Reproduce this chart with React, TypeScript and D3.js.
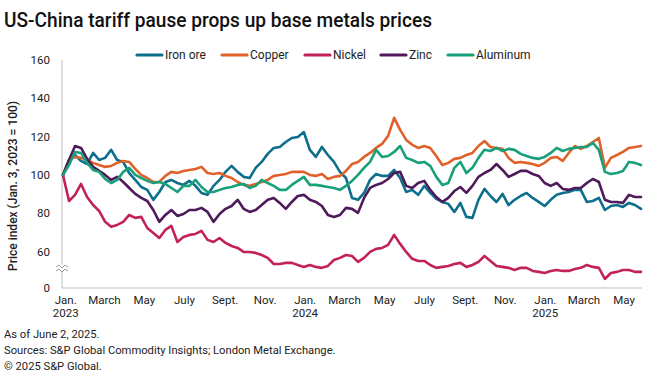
import React from "react";
import * as d3 from "d3";

// ---- Data (price index, Jan. 3, 2023 = 100), evenly spaced samples Jan 3 2023 -> Jun 2 2025 ----
const ironOre = [
  100.0,107.8,110.4,107.3,105.7,111.5,107.8,108.9,113.1,107.8,
  106.8,101.0,97.4,93.7,92.2,87.0,91.1,96.3,97.4,95.8,
  94.8,96.9,94.3,90.6,89.6,94.3,97.4,101.6,104.7,101.6,
  99.0,98.4,103.7,106.8,111.0,114.1,114.6,117.2,119.3,119.8,
  122.4,113.1,109.4,114.6,110.4,106.8,101.6,98.4,88.0,87.0,
  90.6,97.4,100.5,99.5,99.5,102.6,98.4,91.1,92.2,89.6,
  94.3,90.6,87.5,85.9,84.9,80.7,85.4,78.1,77.6,87.0,
  92.7,89.0,85.9,90.1,84.3,87.0,89.0,90.6,88.0,85.9,
  83.8,87.0,89.6,90.6,91.1,92.2,92.2,85.9,86.4,88.0,
  81.7,83.8,84.3,83.3,85.4,84.3,82.3,
];
const copper = [
  100.0,107.8,109.4,108.9,107.8,106.3,105.2,104.2,104.7,106.3,
  107.3,106.8,103.1,100.0,98.4,96.3,96.3,99.5,101.6,101.0,
  102.1,102.6,103.1,104.2,101.0,100.5,101.0,99.5,98.4,96.3,
  94.8,94.3,95.3,96.3,97.4,99.5,100.0,100.5,101.6,101.6,
  101.6,100.0,99.5,100.5,97.9,99.0,99.5,102.1,105.7,106.8,
  109.4,111.5,114.1,116.2,120.4,129.8,123.5,118.3,115.7,114.1,
  115.1,114.1,109.9,105.2,106.3,108.4,108.9,110.4,111.5,115.1,
  117.7,114.6,114.1,113.6,108.9,106.3,106.8,106.3,105.7,104.7,
  106.3,108.9,109.4,107.3,111.5,115.1,113.6,115.1,117.2,119.3,
  103.7,108.9,110.4,112.0,114.1,114.6,115.1,
];
const nickel = [
  100.0,86.4,89.6,95.3,88.5,84.3,81.2,75.5,72.9,73.9,
  75.5,79.1,77.6,78.1,72.3,69.7,67.1,71.3,73.4,65.0,
  67.6,68.7,69.2,70.8,66.1,65.0,67.1,64.5,62.9,61.9,
  59.8,59.8,59.3,58.2,56.7,53.5,53.5,54.1,54.1,53.0,
  52.0,53.0,52.0,51.5,52.5,55.6,56.7,58.2,57.7,54.6,
  56.7,59.8,61.4,61.9,63.5,68.7,64.0,59.8,56.2,55.1,
  55.1,53.0,51.5,52.0,52.5,53.5,54.1,52.0,53.0,54.6,
  57.7,55.1,52.5,52.0,51.5,50.4,51.5,51.5,49.9,49.4,
  48.8,49.9,50.4,49.9,49.9,50.9,51.5,53.0,52.0,51.5,
  45.7,48.8,49.4,50.4,50.4,49.4,49.4,
];
const zinc = [
  100.0,107.8,115.1,114.1,108.4,104.2,102.1,100.0,97.4,99.0,
  96.3,93.2,90.1,88.0,86.4,81.7,75.5,79.1,81.7,78.6,
  79.6,81.7,81.7,82.8,80.7,75.5,79.6,82.3,83.8,87.0,
  82.3,80.7,81.7,84.3,87.0,88.0,85.4,82.3,85.9,89.0,
  89.6,87.0,85.9,83.8,79.1,78.1,79.1,82.8,82.3,80.2,
  88.0,93.2,94.8,95.8,97.9,101.0,101.6,94.3,93.2,95.8,
  96.9,92.2,88.5,85.9,88.0,91.6,93.7,90.6,94.3,99.0,
  101.0,102.6,105.7,102.6,99.0,100.5,102.1,102.1,100.5,99.5,
  95.8,94.3,95.8,92.7,92.2,93.2,93.2,95.8,97.9,96.3,
  87.0,85.9,85.9,85.4,89.6,88.5,88.5,
];
const aluminum = [
  100.0,105.2,112.0,111.5,106.3,102.6,101.6,97.9,95.8,97.4,
  101.6,103.7,100.0,98.4,96.9,95.8,96.3,95.3,93.2,91.1,
  94.3,94.3,97.4,93.7,91.1,91.1,92.2,93.2,93.7,94.8,
  95.3,93.2,94.3,97.4,95.8,94.3,92.2,92.2,94.8,96.9,
  99.0,94.8,94.8,94.3,93.7,93.2,92.2,94.3,96.9,100.0,
  103.7,106.8,113.1,109.4,109.9,112.0,115.1,108.9,107.8,106.3,
  106.8,104.7,99.0,94.8,95.8,103.7,106.8,101.0,103.7,108.9,
  113.1,112.5,114.1,112.5,113.6,113.1,111.0,109.9,108.9,108.4,
  109.4,111.5,114.1,112.5,113.6,114.1,114.6,114.6,116.7,113.1,
  101.6,100.5,101.0,102.1,106.8,106.3,105.2,
];

const seriesNames = ["Iron ore", "Copper", "Nickel", "Zinc", "Aluminum"];
const seriesValues = [ironOre, copper, nickel, zinc, aluminum];
const seriesColors = ["#0e6f8c", "#e0622a", "#c2215a", "#4e1a5a", "#18a07a"];

const startDate = new Date(2023, 0, 3);
const endDate = new Date(2025, 5, 2);

const xTickDates = [
  "2023-01-01", "2023-03-01", "2023-05-01", "2023-07-01", "2023-09-01", "2023-11-01",
  "2024-01-01", "2024-03-01", "2024-05-01", "2024-07-01", "2024-09-01", "2024-11-01",
  "2025-01-01", "2025-03-01", "2025-05-01",
];
const xTickMonths = [
  "Jan.", "March", "May", "July", "Sept.", "Nov.",
  "Jan.", "March", "May", "July", "Sept.", "Nov.",
  "Jan.", "March", "May",
];
const xTickYears = ["2023", "", "", "", "", "", "2024", "", "", "", "", "", "2025", "", ""];

const yTickValues = [0, 60, 80, 100, 120, 140, 160];
const yBreakValue = 45;

const title = "US-China tariff pause props up base metals prices";
const yAxisTitle = "Price index (Jan. 3, 2023 = 100)";
const footnotes = [
  "As of June 2, 2025.",
  "Sources: S&P Global Commodity Insights; London Metal Exchange.",
  "\u00A9 2025 S&P Global.",
];

// ---- Layout ----
const W = 660;
const H = 383;
const plotLeft = 62;
const plotRight = 641;
const plotTop = 60;
const plotBottom = 288;
const FONT = "Roboto, 'Liberation Sans', Arial, sans-serif";
const legendX = [137, 222, 305, 381, 448];

export default function App() {
  const parse = d3.timeParse("%Y-%m-%d");
  const x = d3.scaleTime().domain([startDate, endDate]).range([plotLeft + 1, plotRight]);
  const n = ironOre.length;
  const xi = d3.scaleLinear().domain([0, n - 1]).range([x(startDate), x(endDate)]);
  // broken axis: 0..45 compressed into the bottom strip
  const y = d3
    .scaleLinear()
    .domain([0, yBreakValue, 160])
    .range([plotBottom, plotBottom - 7.7, plotTop]);

  const line = d3
    .line<number>()
    .x((_, i) => xi(i))
    .y((v) => y(v))
    .curve(d3.curveLinear);

  const breakY = 268;

  return (
    <svg width={W} height={H} viewBox={`0 0 ${W} ${H}`} style={{ display: "block", position: "absolute", left: 0, top: 0, background: "#fff" }}>
      <rect x={0} y={0} width={W} height={H} fill="#fff" />
      <text x={4} y={27} fontFamily={FONT} fontWeight={500} fontSize={20} fill="#111" textLength={428} lengthAdjust="spacingAndGlyphs">
        {title}
      </text>

      {/* legend */}
      {seriesNames.map((name, i) => (
        <g key={name} transform={`translate(${legendX[i]},55)`}>
          <line x1={0} x2={25} y1={0} y2={0} stroke={seriesColors[i]} strokeWidth={3.2} strokeLinecap="round" />
          <text x={28} y={4.2} fontFamily={FONT} fontSize={12} fill="#222">
            {name}
          </text>
        </g>
      ))}

      {/* axes */}
      <line x1={plotLeft} x2={plotLeft} y1={plotTop} y2={plotBottom} stroke="#bdbdbd" strokeWidth={1} />
      <line x1={plotLeft} x2={plotRight + 1} y1={plotBottom} y2={plotBottom} stroke="#bdbdbd" strokeWidth={1} />

      {/* axis break marks */}
      <rect x={plotLeft - 6} y={breakY - 3} width={12} height={6} fill="#fff" />
      <path d={`M${plotLeft - 6},${breakY - 1} l3,-2 l3,3 l3,-3 l3,2`} fill="none" stroke="#9a9a9a" strokeWidth={1} />
      <path d={`M${plotLeft - 6},${breakY + 3} l3,-2 l3,3 l3,-3 l3,2`} fill="none" stroke="#9a9a9a" strokeWidth={1} />

      {/* y ticks */}
      {yTickValues.map((v) => (
        <text key={v} x={50} y={y(v)} dy="0.35em" textAnchor="end" fontFamily={FONT} fontSize={11.5} fill="#222">
          {v}
        </text>
      ))}
      <text
        transform={`translate(17,${(plotTop + plotBottom) / 2 + 12}) rotate(-90)`}
        textAnchor="middle"
        fontFamily={FONT}
        fontWeight={500}
        fontSize={12}
        fill="#222"
      >
        {yAxisTitle}
      </text>

      {/* x ticks */}
      {xTickDates.map((ds, i) => {
        const px = x(parse(ds) as Date) + 4;
        return (
          <g key={ds}>
            <text x={px} y={304} textAnchor="middle" fontFamily={FONT} fontSize={11.5} fill="#222">
              {xTickMonths[i]}
            </text>
            {xTickYears[i] && (
              <text x={px} y={317} textAnchor="middle" fontFamily={FONT} fontSize={11.5} fill="#222">
                {xTickYears[i]}
              </text>
            )}
          </g>
        );
      })}

      {/* series */}
      {seriesValues.map((vals, i) => (
        <path
          key={seriesNames[i]}
          d={line(vals) || ""}
          fill="none"
          stroke={seriesColors[i]}
          strokeWidth={2.6}
          strokeLinejoin="round"
          strokeLinecap="round"
        />
      ))}

      {/* footnotes */}
      {footnotes.map((t, i) => (
        <text key={i} x={4} y={338 + i * 16} fontFamily={FONT} fontSize={11.2} fill="#222">
          {t}
        </text>
      ))}
    </svg>
  );
}
